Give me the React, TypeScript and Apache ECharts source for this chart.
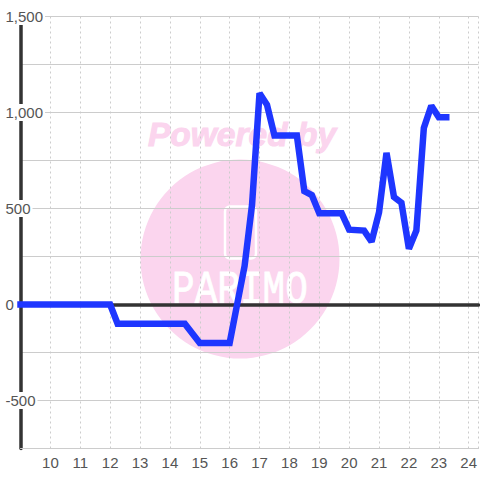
import React, { useEffect, useRef } from "react";
import * as echarts from "echarts";

const hours = [9, 12, 12.25, 14.5, 15, 16, 16.25, 16.5, 16.75, 17, 17.25, 17.5, 18, 18.25, 18.5, 18.75, 19, 19.75, 20, 20.5, 20.75, 21, 21.25, 21.5, 21.75, 22, 22.25, 22.5, 22.75, 23, 23.25];
const values = [0, 0, -100, -100, -200, -200, 0, 200, 520, 1100, 1040, 880, 880, 880, 590, 570, 475, 475, 390, 385, 327, 480, 790, 560, 530, 290, 385, 920, 1035, 975, 975];
const labelledTicks: Record<string, string> = { "1500": "1,500", "1000": "1,000", "500": "500", "0": "0", "-500": "-500" };
const pink = "#fbd5ee";

export default function App() {
  const ref = useRef<HTMLDivElement>(null);
  useEffect(() => {
    document.body.style.margin = "0";
    const chart = echarts.init(ref.current!, null, { renderer: "svg" });
    chart.setOption({
      animation: false,
      backgroundColor: "#fff",
      grid: { left: 20.5, right: -0.1, top: 16.5, bottom: 31.5, containLabel: false },
      graphic: [
        { type: "circle", z: -10, shape: { cx: 240, cy: 259, r: 99.5 }, style: { fill: pink } },
        { type: "rect", z: -9, shape: { x: 225, y: 206.5, width: 31, height: 52, r: 5 }, style: { fill: "none", stroke: "#fff", lineWidth: 2.5 } },
        { type: "text", z: -9, x: 240, y: 291, scaleX: 0.82, style: { text: "PARIMO", font: "46px 'Liberation Mono'", fill: "#fff", stroke: "#fff", lineWidth: 0.8, align: "center", verticalAlign: "middle" } },
        { type: "text", z: -9, x: 242, y: 134, style: { text: "Powered by", font: "italic bold 33.5px 'Liberation Sans'", fill: pink, stroke: pink, lineWidth: 1, align: "center", verticalAlign: "middle" } },
      ],
      xAxis: [
        {
          type: "value", min: 9, max: 24.33, interval: 1, position: "bottom",
          axisLine: { onZero: false, lineStyle: { color: "#ccc", width: 1 } },
          axisTick: { show: false },
          axisLabel: { color: "#555", fontSize: 15, fontFamily: "Liberation Sans", margin: 6, showMinLabel: false, showMaxLabel: false },
          splitLine: { show: true, lineStyle: { color: "#ccc", type: [2, 3], width: 1 } },
        },
        {
          type: "value", min: 9, max: 24.33, position: "top",
          axisLine: { show: true, onZero: true, lineStyle: { color: "#333", width: 3.5 } },
          axisTick: { show: false }, axisLabel: { show: false }, splitLine: { show: false },
        },
      ],
      yAxis: {
        type: "value", min: -750, max: 1500, interval: 250,
        axisLine: { show: true, onZero: false, lineStyle: { color: "#333", width: 3.5 } },
        axisTick: { show: false },
        axisLabel: {
          color: "#555", fontSize: 15, fontFamily: "Liberation Sans", align: "left", margin: 15,
          formatter: (v: number) => labelledTicks[String(v)] ?? "",
          backgroundColor: "#fff", padding: [1, 2, 1, 0],
          showMinLabel: true,
        },
        splitLine: { show: true, lineStyle: { color: "#ccc", width: 1 } },
      },
      series: [
        {
          type: "line", xAxisIndex: 0, data: hours.map((h, i) => [h, values[i]]),
          showSymbol: false, symbol: "none", clip: false,
          lineStyle: { color: "#1e36ff", width: 6.5, cap: "square", join: "miter", miterLimit: 2 },
        },
      ],
    });
    return () => chart.dispose();
  }, []);
  return <div ref={ref} style={{ width: 480, height: 480 }} />;
}
